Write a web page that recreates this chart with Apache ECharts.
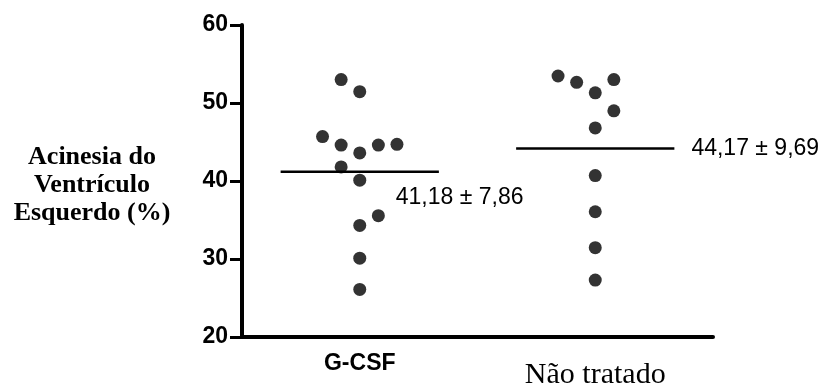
<!DOCTYPE html>
<html>
<head>
<meta charset="utf-8">
<script src="https://cdn.jsdelivr.net/npm/echarts@6/dist/echarts.min.js"></script>
<style>
  html, body { margin: 0; padding: 0; background: #fff; }
  #chart { width: 824px; height: 389px; }
</style>
</head>
<body>
<div id="chart"></div>
<script>
// categorias
var groups = ["G-CSF", "Não tratado"];
// valores (%)
var gcsfValues = [53.0, 51.45, 45.7, 44.6, 43.6, 44.6, 44.7, 41.8, 40.1, 35.55, 34.3, 30.1, 26.1];
// coluna do ponto dentro do grupo (dispersão horizontal)
var gcsfCols = [-1, 0, -2, -1, 0, 1, 2, -1, 0, 1, 0, 0, 0];
var naoValues = [53.46, 52.65, 53.0, 51.3, 49.0, 46.8, 40.7, 36.06, 31.45, 27.3];
var naoCols = [-2, -1, 1, 0, 1, 0, 0, 0, 0, 0];
// média e desvio padrão
var means = [41.18, 44.17];
var sds = [7.86, 9.69];
var yTicks = [20, 30, 40, 50, 60];

var colStep = 0.079; // largura de uma coluna em unidades de categoria

function toPoints(idx, vals, cols) {
  return vals.map(function (v, i) {
    return [idx + cols[i] * colStep, v];
  });
}

function fmt(n) {
  return n.toFixed(2).replace(".", ",");
}

var chart = echarts.init(document.getElementById("chart"));

var option = {
  animation: false,
  grid: { left: 242, right: 111, top: 25, bottom: 52, containLabel: false, outerBoundsMode: "none" },
  xAxis: [
    {
      type: "category",
      data: groups,
      boundaryGap: true,
      axisLine: { onZero: false, lineStyle: { color: "#000", width: 4 } },
      axisTick: { alignWithLabel: true, length: 10, lineStyle: { color: "#000", width: 3 } },
      axisLabel: {
        margin: 8,
        formatter: function (v, i) {
          return i === 0 ? "{a|" + v + "}" : "{b|" + v + "}";
        },
        rich: {
          a: { fontFamily: "Liberation Sans", fontWeight: "bold", fontSize: 23, color: "#000", padding: [7, 0, 0, 0] },
          b: { fontFamily: "Liberation Serif", fontSize: 30, color: "#000", padding: [15, 0, 0, 0] }
        }
      },
      splitLine: { show: false }
    },
    {
      type: "value",
      min: -0.5,
      max: 1.5,
      show: false
    }
  ],
  yAxis: {
    type: "value",
    min: 20,
    max: 60,
    interval: 10,
    axisLine: { show: true, onZero: false, lineStyle: { color: "#000", width: 4 } },
    axisTick: { show: true, length: 12, lineStyle: { color: "#000", width: 3 } },
    axisLabel: {
      margin: 14,
      color: "#000",
      fontFamily: "Liberation Sans",
      fontWeight: "bold",
      fontSize: 23,
      formatter: function (v) { return yTicks.indexOf(v) >= 0 ? String(v) : ""; }
    },
    splitLine: { show: false }
  },
  graphic: [
    {
      type: "text",
      x: 92,
      y: 185,
      style: {
        text: "Acinesia do\nVentrículo\nEsquerdo (%)",
        fontFamily: "Liberation Serif",
        fontWeight: "bold",
        fontSize: 26,
        lineHeight: 28,
        fill: "#000",
        align: "center",
        verticalAlign: "middle"
      }
    }
  ],
  series: [
    {
      type: "scatter",
      xAxisIndex: 1,
      symbolSize: 13,
      itemStyle: { color: "#000" },
      data: toPoints(0, gcsfValues, gcsfCols)
    },
    {
      type: "scatter",
      xAxisIndex: 1,
      symbolSize: 13,
      itemStyle: { color: "#000" },
      data: toPoints(1, naoValues, naoCols)
    },
    {
      // linha da média + texto
      type: "custom",
      xAxisIndex: 1,
      data: means.map(function (m, i) { return [i, m, sds[i]]; }),
      renderItem: function (params, api) {
        var i = api.value(0);
        var m = api.value(1);
        var a = api.coord([i - 0.336, m]);
        var b = api.coord([i + 0.336, m]);
        var c = api.coord([i, m]);
        var label = fmt(m) + " ± " + fmt(api.value(2));
        var tx, ty;
        if (i === 0) { tx = c[0] + 36; ty = c[1] + 26; }
        else { tx = b[0] + 17; ty = c[1]; }
        return {
          type: "group",
          children: [
            {
              type: "line",
              shape: { x1: a[0], y1: a[1], x2: b[0], y2: b[1] },
              style: { stroke: "#000", lineWidth: 2.5 }
            },
            {
              type: "text",
              x: tx,
              y: ty,
              style: {
                text: label,
                fontFamily: "Liberation Sans",
                fontSize: 23,
                fill: "#000",
                align: "left",
                verticalAlign: "middle"
              }
            }
          ]
        };
      }
    }
  ]
};

chart.setOption(option);
</script>
</body>
</html>
